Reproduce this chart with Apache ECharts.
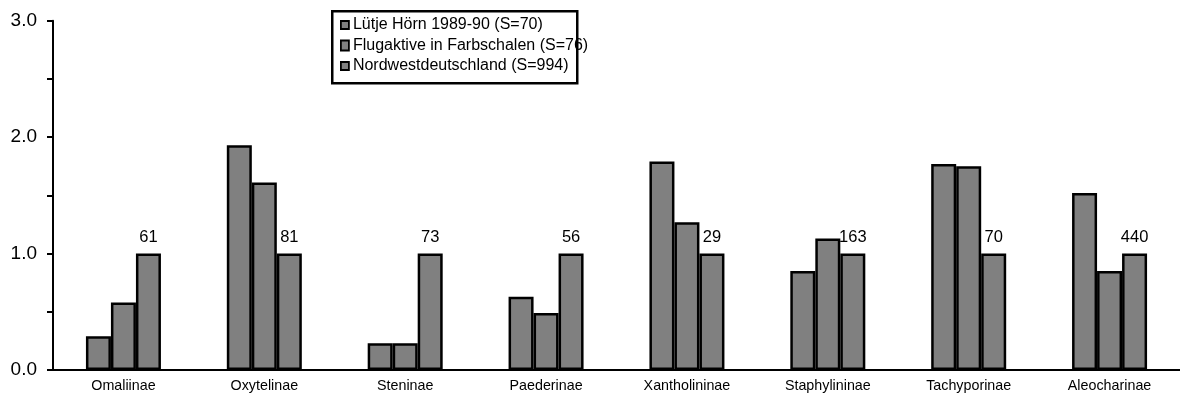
<!DOCTYPE html>
<html>
<head>
<meta charset="utf-8">
<script src="https://cdn.jsdelivr.net/npm/echarts@6/dist/echarts.min.js"></script>
<style>
html,body{margin:0;padding:0;background:#fff;}
#chart{width:1180px;height:397px;}
</style>
</head>
<body>
<div id="chart"></div>
<script>
var categories = ['Omaliinae','Oxytelinae','Steninae','Paederinae','Xantholininae','Staphylininae','Tachyporinae','Aleocharinae'];
var seriesNames = ['Lütje Hörn 1989-90 (S=70)','Flugaktive in Farbschalen (S=76)','Nordwestdeutschland (S=994)'];
var lutjeHoern = [0.29, 1.93, 0.23, 0.63, 1.79, 0.85, 1.77, 1.52];
var flugaktive = [0.58, 1.61, 0.23, 0.49, 1.27, 1.13, 1.75, 0.85];
var nordwest = [1.0, 1.0, 1.0, 1.0, 1.0, 1.0, 1.0, 1.0];
var speciesCounts = ['61','81','73','56','29','163','70','440'];

var FONT = '"Liberation Sans", Arial, Helvetica, sans-serif';
var chart = echarts.init(document.getElementById('chart'));
var barStyle = {color:'#808080', borderColor:'#000', borderWidth:2.5};
var sq = 'path://M0,0h10v10h-10z';

chart.setOption({
  animation:false,
  textStyle:{fontFamily:FONT},
  grid:{left:53, right:0, top:20.7, bottom:27},
  graphic:[{
    type:'rect', left:331, top:10, z:-1,
    shape:{width:245, height:72},
    style:{fill:'#fff', stroke:'#000', lineWidth:2.5}
  }],
  legend:{
    orient:'vertical', left:332, top:13,
    borderWidth:0,
    padding:[4,8,8,8], itemGap:4.5, itemWidth:8, itemHeight:10,
    textStyle:{fontFamily:FONT, fontSize:16, color:'#000', padding:[0,0,0,-1]},
    data:[
      {name:seriesNames[0], icon:sq},
      {name:seriesNames[1], icon:'rect'},
      {name:seriesNames[2], icon:sq}
    ],
    itemStyle:{color:'#808080', borderColor:'#000', borderWidth:1.8}
  },
  xAxis:{
    type:'category', data:categories,
    axisLine:{lineStyle:{color:'#000', width:2}},
    axisTick:{show:false},
    axisLabel:{color:'#000', fontSize:14.3, fontFamily:FONT, margin:9, interval:0}
  },
  yAxis:{
    type:'value', min:0, max:3, interval:0.5,
    axisLine:{show:true, lineStyle:{color:'#000', width:2}},
    axisTick:{show:true, length:6, lineStyle:{color:'#000', width:2}},
    splitLine:{show:false},
    axisLabel:{color:'#000', fontSize:19, fontFamily:FONT, margin:16,
      formatter:function(v){ return (Math.abs(v % 1) < 1e-9) ? v.toFixed(1) : ''; }}
  },
  series:[
    {name:seriesNames[0], type:'bar', data:lutjeHoern, barWidth:25, barGap:'0%', itemStyle:barStyle},
    {name:seriesNames[1], type:'bar', data:flugaktive, barWidth:25, barGap:'0%', itemStyle:barStyle},
    {name:seriesNames[2], type:'bar', data:nordwest, barWidth:25, barGap:'0%', itemStyle:barStyle,
      label:{show:true, position:'top', distance:8, color:'#000', fontSize:16.5, fontFamily:FONT,
        formatter:function(p){ return speciesCounts[p.dataIndex]; }}}
  ]
});
</script>
</body>
</html>
